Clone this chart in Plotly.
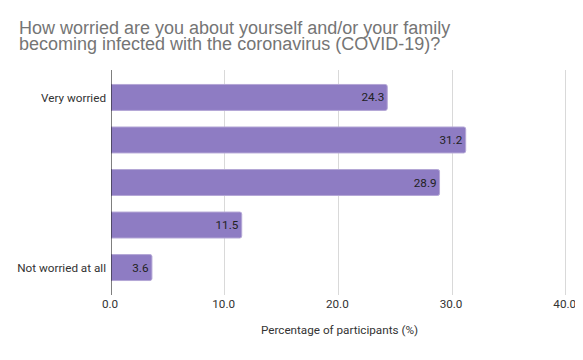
import plotly.graph_objects as go

categories = ["Very worried", "", "", "", "Not worried at all"]
values = [24.3, 31.2, 28.9, 11.5, 3.6]
x_ticks = [0, 10, 20, 30, 40]
x_tick_labels = ["0.0", "10.0", "20.0", "30.0", "40.0"]
title_lines = ["How worried are you about yourself and/or your family",
               "becoming infected with the coronavirus (COVID-19)?"]

pos = list(range(len(categories)))

# page body has an 8px margin; figure sized/offset so the page does not overflow
OFF = 8
W, H = 583 - 2 * OFF, 360 - 2 * OFF
X_MAX = 40.2
ML, MT = 111 - OFF, 70 - OFF
PW = round((566 - 111) * X_MAX / 40)
MR = W - ML - PW
MB = H - (295 - OFF)
PH = H - MT - MB

fig = go.Figure(go.Bar(
    x=values, y=pos, orientation="h",
    marker=dict(color="#8e7cc3", line=dict(color="#b4a7d6", width=1), cornerradius=2),
    width=0.61,
    text=[f"{v:.1f}" for v in values],
    textposition="inside", insidetextanchor="end",
    textfont=dict(family="Roboto", size=11.7, color="#222222"),
    hoverinfo="skip",
))

fig.update_layout(
    width=W, height=H,
    margin=dict(l=ML, r=MR, t=MT, b=MB, autoexpand=False),
    plot_bgcolor="white", paper_bgcolor="white",
    showlegend=False,
    xaxis=dict(range=[0, X_MAX], tickvals=x_ticks, ticktext=x_tick_labels,
               showgrid=True, gridcolor="#d9d9d9", gridwidth=1, zeroline=False,
               tickfont=dict(family="Roboto", size=11.7, color="#333333"),
               title=dict(text="Percentage of participants (%)",
                          font=dict(family="Roboto", size=11.7, color="#333333"), standoff=16),
               ticks="", fixedrange=True, automargin=False, ticklabelshift=-1,
               ticklabeloverflow="allow"),
    yaxis=dict(range=[4.645, -0.645], tickvals=pos, ticktext=categories,
               showgrid=False, zeroline=False, showline=False,
               tickfont=dict(family="Roboto", size=11.7, color="#333333"),
               ticks="", ticklabelstandoff=4, automargin=False),
)

for i, line in enumerate(title_lines):
    fig.add_annotation(
        text=line, showarrow=False, xref="paper", yref="paper",
        x=(17 - OFF - ML) / PW, y=1 + (MT - [32, 48][i]) / PH,
        xanchor="left", yanchor="bottom",
        font=dict(family="Liberation Sans, Arial", size=18, color="#757575"))

fig.add_shape(type="line", xref="x", yref="paper", x0=0, x1=0, y0=0, y1=1,
              line=dict(color="#000000", width=1))

fig.write_html("out.html")
